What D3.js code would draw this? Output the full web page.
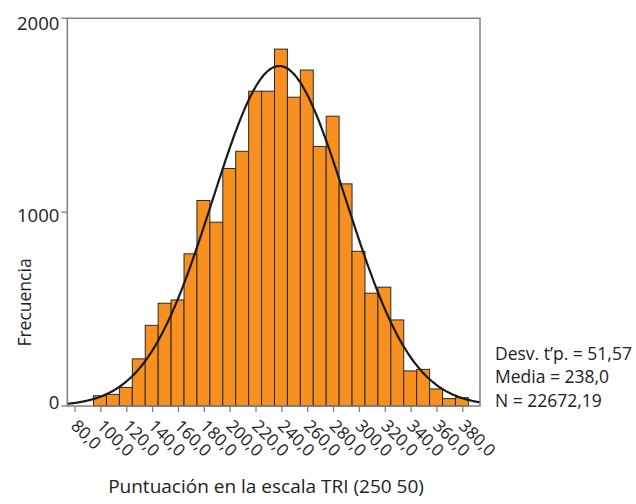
<!DOCTYPE html>
<html>
<head>
<meta charset="utf-8">
<script src="https://cdn.jsdelivr.net/npm/d3@7"></script>
<style>
  html, body { margin: 0; padding: 0; background: #fff; }
  svg { display: block; }
  text { font-family: "Open Sans", sans-serif; fill: #222; }
</style>
</head>
<body>
<svg id="chart" width="636" height="504"></svg>
<script>
// ---- data ----
const binStart = 94.3;
const binWidth = 10;
const frequencies = [53, 60, 96, 243, 416, 530, 547, 785, 1060, 948, 1225, 1314, 1624, 1624, 1841,
                     1593, 1733, 1339, 1495, 1146, 798, 582, 613, 444, 181, 189, 88, 38, 43];
const xTicks = [80, 100, 120, 140, 160, 180, 200, 220, 240, 260, 280, 300, 320, 340, 360, 380];
const yTicks = [0, 1000, 2000];
const statLabels = ["Desv. t\u2019p. = 51,57", "Media = 238,0", "N = 22672,19"];
const statMean = 238.0;
const statSD = 51.57;
const statN = 22672.19;
const xTitle = "Puntuación en la escala TRI (250 50)";
const yTitle = "Frecuencia";

// ---- layout ----
const svg = d3.select("#chart");
const L = 67.3, R = 480, T = 18.3, B = 406;
const x = d3.scaleLinear().domain([74, 393.3]).range([L, R]);
const y = d3.scaleLinear().domain([0, 2000]).range([B, T]);

const fmt = v => v.toFixed(1).replace(".", ",");

// bars
const bins = frequencies.map((f, i) => ({ x0: binStart + i * binWidth, x1: binStart + (i + 1) * binWidth, f }));
svg.append("g").selectAll("rect").data(bins).join("rect")
  .attr("x", d => x(d.x0))
  .attr("y", d => y(d.f))
  .attr("width", d => x(d.x1) - x(d.x0))
  .attr("height", d => y(0) - y(d.f))
  .attr("fill", "#F7901E")
  .attr("stroke", "#2a2a2a")
  .attr("stroke-width", 1);

// normal curve from stats
svg.append("clipPath").attr("id", "clip").append("rect")
  .attr("x", L).attr("y", T).attr("width", R - L).attr("height", B - T);
const dom = x.domain();
const pts = d3.range(0, 301).map(i => {
  const v = dom[0] + (dom[1] - dom[0]) * i / 300;
  const z = (v - statMean) / statSD;
  return [v, statN * binWidth * Math.exp(-0.5 * z * z) / (statSD * Math.sqrt(2 * Math.PI))];
});
svg.append("path")
  .attr("clip-path", "url(#clip)")
  .attr("d", d3.line().x(d => x(d[0])).y(d => y(d[1])).curve(d3.curveBasis)(pts))
  .attr("fill", "none")
  .attr("stroke", "#1a1a1a")
  .attr("stroke-width", 2.2);

// frame
svg.append("rect")
  .attr("x", L).attr("y", T).attr("width", R - L).attr("height", B - T)
  .attr("fill", "none").attr("stroke", "#808080").attr("stroke-width", 1.5);

// y axis ticks
const yAxis = svg.append("g");
yTicks.forEach(t => {
  yAxis.append("line").attr("x1", L - 6).attr("x2", L).attr("y1", y(t)).attr("y2", y(t))
    .attr("stroke", "#808080").attr("stroke-width", 1.3);
  const adj = t === 0 ? -5 : (t === 2000 ? 4 : 2);
  yAxis.append("text")
    .attr("x", L - 8).attr("y", y(t) + adj)
    .attr("text-anchor", "end").attr("dominant-baseline", "central")
    .attr("font-size", 18.5)
    .text(t);
});

// x axis ticks
const xAxis = svg.append("g");
xTicks.forEach(t => {
  xAxis.append("line").attr("x1", x(t)).attr("x2", x(t)).attr("y1", B).attr("y2", B + 6)
    .attr("stroke", "#808080").attr("stroke-width", 1.3);
  xAxis.append("text")
    .attr("transform", `translate(${x(t) - 5},${427}) rotate(45)`)
    .attr("text-anchor", "start")
    .attr("font-size", 17)
    .text(fmt(t));
});

// axis titles
svg.append("text")
  .attr("transform", `translate(31,${302.5}) rotate(-90)`)
  .attr("text-anchor", "middle")
  .attr("font-size", 17.5)
  .text(yTitle);

svg.append("text")
  .attr("x", 266).attr("y", 493)
  .attr("text-anchor", "middle")
  .attr("font-size", 19)
  .text(xTitle);

// stats
svg.append("g").selectAll("text").data(statLabels).join("text")
  .attr("x", 495)
  .attr("y", (d, i) => 359.5 + i * 23.7)
  .attr("font-size", 17.5)
  .text(d => d);
</script>
</body>
</html>
